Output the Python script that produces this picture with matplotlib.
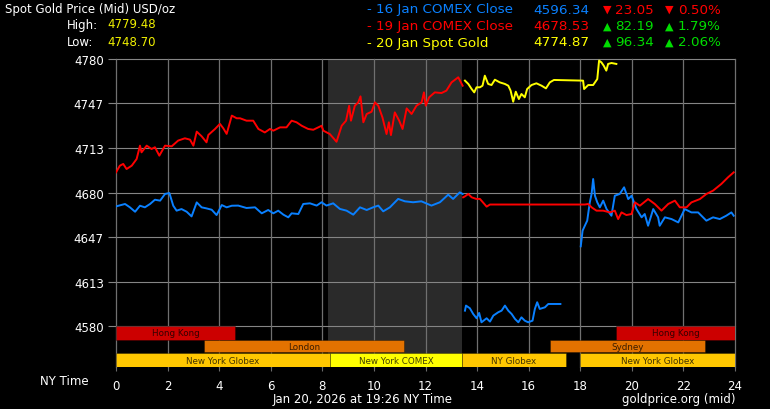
import matplotlib
matplotlib.use("Agg")
import matplotlib.pyplot as plt

# ---- data (hours NY time, USD/oz) ----
blue1_h = [0.0, 0.35, 0.54, 0.74, 0.93, 1.12, 1.32, 1.51, 1.71, 1.90, 2.07, 2.22, 2.35, 2.54, 2.74,
           2.93, 3.13, 3.32, 3.51, 3.71, 3.90, 4.10, 4.29, 4.49, 4.74, 5.06, 5.39, 5.65, 5.90, 6.10,
           6.29, 6.49, 6.68, 6.81, 7.07, 7.26, 7.52, 7.78, 7.97, 8.16, 8.42, 8.68, 8.94, 9.20, 9.46,
           9.72, 9.97, 10.17, 10.36, 10.62, 10.94, 11.20, 11.52, 11.84, 12.23, 12.56, 12.88, 13.07,
           13.33, 13.44]
blue1_v = [4669.6, 4671.4, 4668.9, 4665.6, 4670.1, 4668.9, 4671.4, 4674.6, 4673.9, 4678.9, 4679.6,
           4670.1, 4666.4, 4667.6, 4665.6, 4662.1, 4672.6, 4668.9, 4668.1, 4667.1, 4663.1, 4670.6,
           4668.9, 4670.1, 4670.2, 4668.4, 4668.9, 4664.4, 4666.9, 4664.4, 4666.4, 4663.4, 4661.4,
           4664.4, 4663.9, 4671.4, 4671.9, 4670.2, 4672.7, 4670.2, 4671.9, 4667.7, 4666.4, 4663.4,
           4668.9, 4666.9, 4668.9, 4670.2, 4665.9, 4668.9, 4675.2, 4673.4, 4672.7, 4673.4, 4670.2,
           4672.7, 4678.4, 4675.2, 4680.1, 4678.9]

blue2_h = [13.53, 13.57, 13.72, 13.85, 13.98, 14.08, 14.17, 14.37, 14.50, 14.63, 14.82, 14.95, 15.08,
           15.21, 15.34, 15.47, 15.60, 15.72, 15.85, 15.98, 16.15, 16.24, 16.33, 16.43, 16.63, 16.76,
           16.95, 17.23]
blue2_v = [4591.5, 4595.3, 4593.3, 4589.0, 4585.8, 4589.8, 4582.8, 4585.8, 4583.3, 4587.8, 4590.3,
           4591.5, 4595.3, 4591.5, 4589.0, 4585.3, 4582.8, 4586.5, 4584.0, 4582.8, 4584.0, 4592.8,
           4597.8, 4592.8, 4594.0, 4596.5, 4596.5, 4596.5]

blue3_h = [18.02, 18.09, 18.18, 18.27, 18.37, 18.44, 18.50, 18.57, 18.66, 18.76, 18.89, 19.02, 19.21,
           19.34, 19.53, 19.70, 19.86, 19.99, 20.18, 20.38, 20.50, 20.63, 20.83, 21.02, 21.08, 21.28,
           21.54, 21.80, 22.05, 22.31, 22.57, 22.89, 23.15, 23.41, 23.66, 23.86, 23.95]
blue3_v = [4639.7, 4651.4, 4655.2, 4658.9, 4672.6, 4678.9, 4690.1, 4677.6, 4672.6, 4668.9, 4673.9,
           4667.6, 4662.6, 4677.6, 4678.9, 4683.9, 4675.1, 4677.6, 4667.6, 4661.4, 4663.9, 4655.1,
           4667.6, 4661.4, 4655.1, 4661.4, 4660.1, 4657.6, 4667.6, 4665.1, 4665.1, 4658.9, 4661.4,
           4660.1, 4662.6, 4665.1, 4662.6]

red1_h = [0.0, 0.15, 0.28, 0.41, 0.61, 0.80, 0.93, 0.99, 1.19, 1.38, 1.51, 1.68, 1.90, 2.16, 2.41,
          2.67, 2.87, 3.0, 3.13, 3.32, 3.51, 3.58, 3.84, 4.03, 4.16, 4.29, 4.49, 4.68, 4.81, 5.06,
          5.32, 5.52, 5.77, 5.97, 6.10, 6.36, 6.61, 6.81, 7.0, 7.2, 7.45, 7.65, 7.97, 8.04, 8.29,
          8.55, 8.75, 8.92, 9.04, 9.11, 9.26, 9.39, 9.48, 9.59, 9.72, 9.91, 10.04, 10.17, 10.33,
          10.49, 10.58, 10.66, 10.81, 10.98, 11.11, 11.27, 11.46, 11.65, 11.85, 11.94, 12.01, 12.14,
          12.36, 12.62, 12.81, 13.01, 13.27, 13.44]
red1_v = [4695.1, 4700.1, 4701.4, 4697.6, 4700.1, 4705.1, 4715.1, 4710.1, 4715.1, 4712.6, 4713.9,
          4707.6, 4715.1, 4714.6, 4718.9, 4720.6, 4719.6, 4715.1, 4725.6, 4722.1, 4717.6, 4723.1,
          4727.6, 4731.4, 4728.1, 4723.9, 4737.6, 4735.6, 4735.6, 4733.8, 4733.8, 4727.6, 4725.0,
          4727.6, 4726.3, 4728.8, 4728.8, 4733.8, 4732.6, 4730.0, 4727.6, 4727.0, 4730.0, 4726.3,
          4723.8, 4718.0, 4730.0, 4733.8, 4745.0, 4733.8, 4745.0, 4747.5, 4752.0, 4732.6, 4738.8,
          4740.5, 4747.5, 4745.0, 4736.3, 4723.8, 4732.6, 4723.0, 4740.0, 4733.8, 4727.6, 4743.0,
          4738.8, 4745.0, 4747.5, 4755.0, 4745.0, 4751.3, 4755.0, 4754.5, 4756.3, 4762.5, 4766.3,
          4760.0]

red2_h = [13.46, 13.52, 13.66, 13.79, 13.97, 14.11, 14.30, 14.37, 14.50, 18.18, 18.31, 18.44, 18.63,
          18.89, 19.15, 19.34, 19.47, 19.60, 19.79, 19.99, 20.12, 20.31, 20.63, 20.89, 21.15, 21.41,
          21.67, 21.86, 22.12, 22.31, 22.64, 22.89, 23.15, 23.47, 23.73, 23.95]
red2_v = [4676.4, 4677.0, 4678.9, 4676.4, 4675.2, 4675.2, 4671.0, 4669.4, 4671.0, 4671.0, 4671.4,
          4668.9, 4666.4, 4666.4, 4665.1, 4666.4, 4660.1, 4665.1, 4663.1, 4663.9, 4672.6, 4670.1,
          4675.1, 4671.4, 4666.4, 4671.4, 4673.9, 4668.9, 4668.9, 4672.6, 4675.1, 4678.9, 4681.4,
          4686.4, 4691.4, 4695.1]

yel_h = [13.53, 13.66, 13.79, 13.89, 13.98, 14.11, 14.21, 14.30, 14.43, 14.56, 14.69, 14.88, 15.08,
         15.21, 15.30, 15.40, 15.50, 15.62, 15.72, 15.85, 15.94, 16.11, 16.30, 16.50, 16.67, 16.82,
         16.98, 18.11, 18.15, 18.31, 18.50, 18.66, 18.73, 18.82, 18.91, 19.01, 19.08, 19.21, 19.40]
yel_v = [4763.8, 4761.3, 4757.5, 4755.0, 4758.8, 4758.8, 4760.0, 4767.5, 4761.3, 4760.5, 4764.5,
         4762.5, 4761.3, 4760.0, 4756.3, 4748.0, 4755.5, 4750.0, 4753.8, 4751.3, 4757.5, 4760.5,
         4761.8, 4760.0, 4758.0, 4762.5, 4764.3, 4763.8, 4757.5, 4760.5, 4760.5, 4765.0, 4778.8,
         4777.5, 4775.0, 4771.3, 4776.3, 4777.0, 4776.3]

yticks = [4580, 4613.33, 4646.67, 4680, 4713.33, 4746.67, 4780]
ylabels = ["4580", "4613", "4647", "4680", "4713", "4747", "4780"]
xticks = [0, 2, 4, 6, 8, 10, 12, 14, 16, 18, 20, 22, 24]

comex_open, comex_close = 8.22, 13.42

# market sessions: name, start, end, row
sessions = [("Hong Kong", 0, 4.61, 0), ("Hong Kong", 19.38, 24, 0),
            ("London", 3.41, 11.17, 1), ("Sydney", 16.82, 22.84, 1),
            ("New York Globex", 0, 8.29, 2), ("New York COMEX", 8.29, 13.42, 2),
            ("NY Globex", 13.42, 17.43, 2), ("New York Globex", 17.98, 24, 2)]
session_colors = {"Hong Kong": "#cc0000", "London": "#e37200", "Sydney": "#e37200",
                  "New York Globex": "#ffc700", "NY Globex": "#ffc700", "New York COMEX": "#ffff00"}

leg_labels = ["- 16 Jan COMEX Close", "- 19 Jan COMEX Close", "- 20 Jan Spot Gold"]
leg_prices = ["4596.34", "4678.53", "4774.87"]
leg_changes = ["23.05", "82.19", "96.34"]
leg_pcts = ["0.50%", "1.79%", "2.06%"]
leg_up = [False, True, True]

high, low = "4779.48", "4748.70"

# ---- colours ----
BLUE = "#0a80ff"
RED = "#ff0000"
YEL = "#ffff00"
GREEN = "#00dd00"
GRID = "#858585"

W, H = 770, 410
fig = plt.figure(figsize=(W / 100, H / 100), dpi=100, facecolor="black")
ax = fig.add_axes([116 / W, 1 - 368 / H, (735 - 116) / W, (368 - 60) / H])
ax.set_facecolor("black")
ax.set_xlim(0, 24)
ax.set_ylim(4549.3, 4780)
for s in ax.spines.values():
    s.set_visible(False)

ax.set_yticks(yticks, ylabels)
ax.set_xticks(xticks, [str(x) for x in xticks])
ax.tick_params(axis="y", length=5.8, width=0.8, color=GRID, labelcolor="white", labelsize=8.5, pad=3)
ax.tick_params(axis="x", length=3, width=0.8, color="#6a6a6a", labelcolor="white", labelsize=8.5, pad=6)

# shaded COMEX hours
ax.axvspan(comex_open, comex_close, color="#2a2a2a", zorder=0, lw=0)

# grid
for y in yticks:
    ax.axhline(y, color=GRID, lw=0.8, zorder=1, clip_on=False)
for x in xticks:
    ax.axvline(x, color="#707070", lw=0.9, zorder=1, clip_on=False)

# price lines
ax.plot(blue1_h, blue1_v, color=BLUE, lw=1.4, zorder=3)
ax.plot(blue2_h, blue2_v, color=BLUE, lw=1.4, zorder=3)
ax.plot(blue3_h, blue3_v, color=BLUE, lw=1.4, zorder=3)
ax.plot(red1_h, red1_v, color=RED, lw=1.4, zorder=3)
ax.plot(red2_h, red2_v, color=RED, lw=1.4, zorder=3)
ax.plot(yel_h, yel_v, color=YEL, lw=1.4, zorder=3)

# session bars
row_bottom = [4569.8, 4560.3, 4549.3]
row_height = [10.2, 9.4, 10.4]
for name, start, end, row in sessions:
    ax.bar(start, row_height[row], width=end - start, bottom=row_bottom[row], align="edge",
           color=session_colors[name], edgecolor=(0, 0, 0, 0.35), lw=0.6, zorder=4)
    ax.text((start + end) / 2, row_bottom[row] + row_height[row] / 2, name, ha="center",
            va="center", fontsize=6.3, color="black", alpha=0.75, zorder=5)

# header text
fig.text(5 / W, 1 - 9 / H, "Spot Gold Price (Mid) USD/oz", color="white", fontsize=8.5, va="center")
fig.text(67 / W, 1 - 25 / H, "High:", color="white", fontsize=8.5, va="center")
fig.text(107 / W, 1 - 25 / H, high, color="#f0f000", fontsize=8.5, va="center")
fig.text(67 / W, 1 - 43 / H, "Low:", color="white", fontsize=8.5, va="center")
fig.text(107 / W, 1 - 43 / H, low, color="#f0f000", fontsize=8.5, va="center")

leg_colors = [BLUE, RED, YEL]
leg_y = [10, 26.5, 43]
for i in range(3):
    y = 1 - leg_y[i] / H
    c = GREEN if leg_up[i] else RED
    tri = "\u25b2" if leg_up[i] else "\u25bc"
    fig.text(367 / W, y, leg_labels[i], color=leg_colors[i], fontsize=9.7, va="center")
    fig.text(533 / W, y, leg_prices[i], color=leg_colors[i], fontsize=9.7, va="center")
    fig.text(603 / W, y, tri, color=c, fontsize=8, va="center")
    fig.text(615 / W, y, leg_changes[i], color=c, fontsize=9.7, va="center")
    fig.text(665 / W, y, tri, color=c, fontsize=8, va="center")
    fig.text(678 / W, y, leg_pcts[i], color=c, fontsize=9.7, va="center")

# footer
fig.text(40 / W, 1 - 382 / H, "NY Time", color="white", fontsize=8.5, va="center")
fig.text(363 / W, 1 - 400 / H, "Jan 20, 2026 at 19:26 NY Time", color="white", fontsize=8.5,
         va="center", ha="center")
fig.text(735 / W, 1 - 400 / H, "goldprice.org (mid)", color="white", fontsize=8.5,
         va="center", ha="right")

fig.savefig("out.png", dpi=100, facecolor="black")
